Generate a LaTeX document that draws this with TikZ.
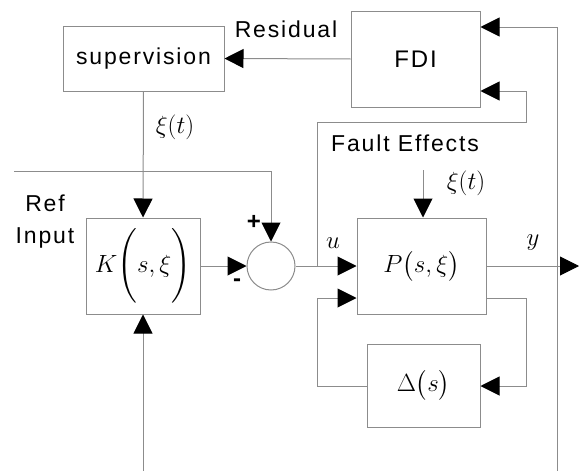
\documentclass[tikz,border=0pt]{standalone}
\usepackage{amsmath}
\usepackage{fontspec}
\setmainfont{Liberation Sans}[LetterSpace=8]
\usetikzlibrary{arrows.meta,positioning,calc}
\definecolor{wiregray}{RGB}{140,140,140}

\tikzset{
  block/.style={draw=wiregray, line width=1pt, inner sep=0pt},
  wire/.style={draw=wiregray, line width=1pt},
  arr/.style={wire, -{Triangle[length=19pt,width=19pt,color=black]}},
  lbl/.style={font=\fontsize{23}{27}\selectfont, inner sep=0pt},
  mathlbl/.style={font=\fontsize{25}{29}\selectfont, inner sep=0pt}
}

\begin{document}
\begin{tikzpicture}[x=1pt, y=-1pt]
    \useasboundingbox (0,0) rectangle (579,471);

    % blocks
    \node[block, minimum width=161pt, minimum height=65pt, lbl] (sup) at (143.5,58.5) {supervision};
    \node[block, minimum width=129pt, minimum height=96pt, font=\fontsize{24}{28}\selectfont] (fdi) at (415.5,59) {FDI};
    \node[block, minimum width=114pt, minimum height=96pt, mathlbl] (ctrl) at (143,266) {$K\Biggl(s,\xi\Biggr)$};
    \node[block, minimum width=129pt, minimum height=96pt, mathlbl] (plant) at (421.5,266) {$P\bigl(s,\xi\bigr)$};
    \node[block, minimum width=113pt, minimum height=83pt, mathlbl] (delta) at (423.5,385.5) {$\Delta\bigl(s\bigr)$};
    \node[circle, draw=wiregray, line width=1pt, minimum size=48pt, inner sep=0pt] (sum) at (271,266) {};

    % free ends
    \coordinate (refin) at (14,171);
    \coordinate (botK) at (143,471);
    \coordinate (botF) at (557,471);
    \coordinate (yout) at (579,266);
    \coordinate (dist) at (423,170);
    \coordinate (tap) at (317,266);

    % signal paths
    \draw[arr] (fdi.west) -- (sup.east);
    \draw[arr] (sup.south) -- (ctrl.north);
    \draw[arr] (refin) -- (271,171) -- (sum.north);
    \draw[arr] (ctrl.east) -- (sum.west);
    \draw[arr] (sum.east) -- (plant.west);
    \draw[arr] (plant.east) -- (yout);
    \draw[arr] (botK) -- (ctrl.south);
    \draw[arr] (botF) -- (557,27) -- (fdi.east |- 0,27);
    \draw[arr] (tap) -- (317,122) -- (526,122) -- (526,91) -- (fdi.east |- 0,91);
    \draw[arr] (plant.east |- 0,298) -- (526,298) -- (526,386) -- (delta.east |- 0,386);
    \draw[arr] (delta.west |- 0,386) -- (317,386) -- (317,298) -- (plant.west |- 0,298);
    \draw[arr] (dist) -- (plant.north -| dist);

    % labels
    \node[lbl] (resid) at (286,29) {Residual};
    \node[lbl] (faulteff) at (405,143) {Fault Effects};
    \node[lbl, align=center, font=\fontsize{23}{32}\selectfont] (refname) at (45,222) {Ref\\Input};
    \node[mathlbl] (xisup) at (175,127) {$\xi(t)$};
    \node[mathlbl] (xidist) at (466,183) {$\xi(t)$};
    \node[mathlbl] (ulbl) at (333,243) {$u$};
    \node[mathlbl] (ylbl) at (533,243) {$y$};
    \node[font=\bfseries\fontsize{24}{26}\selectfont] (plus) at (254,222) {+};
    \node[font=\bfseries\fontsize{24}{26}\selectfont] (minus) at (237,283) {-};
\end{tikzpicture}
\end{document}
